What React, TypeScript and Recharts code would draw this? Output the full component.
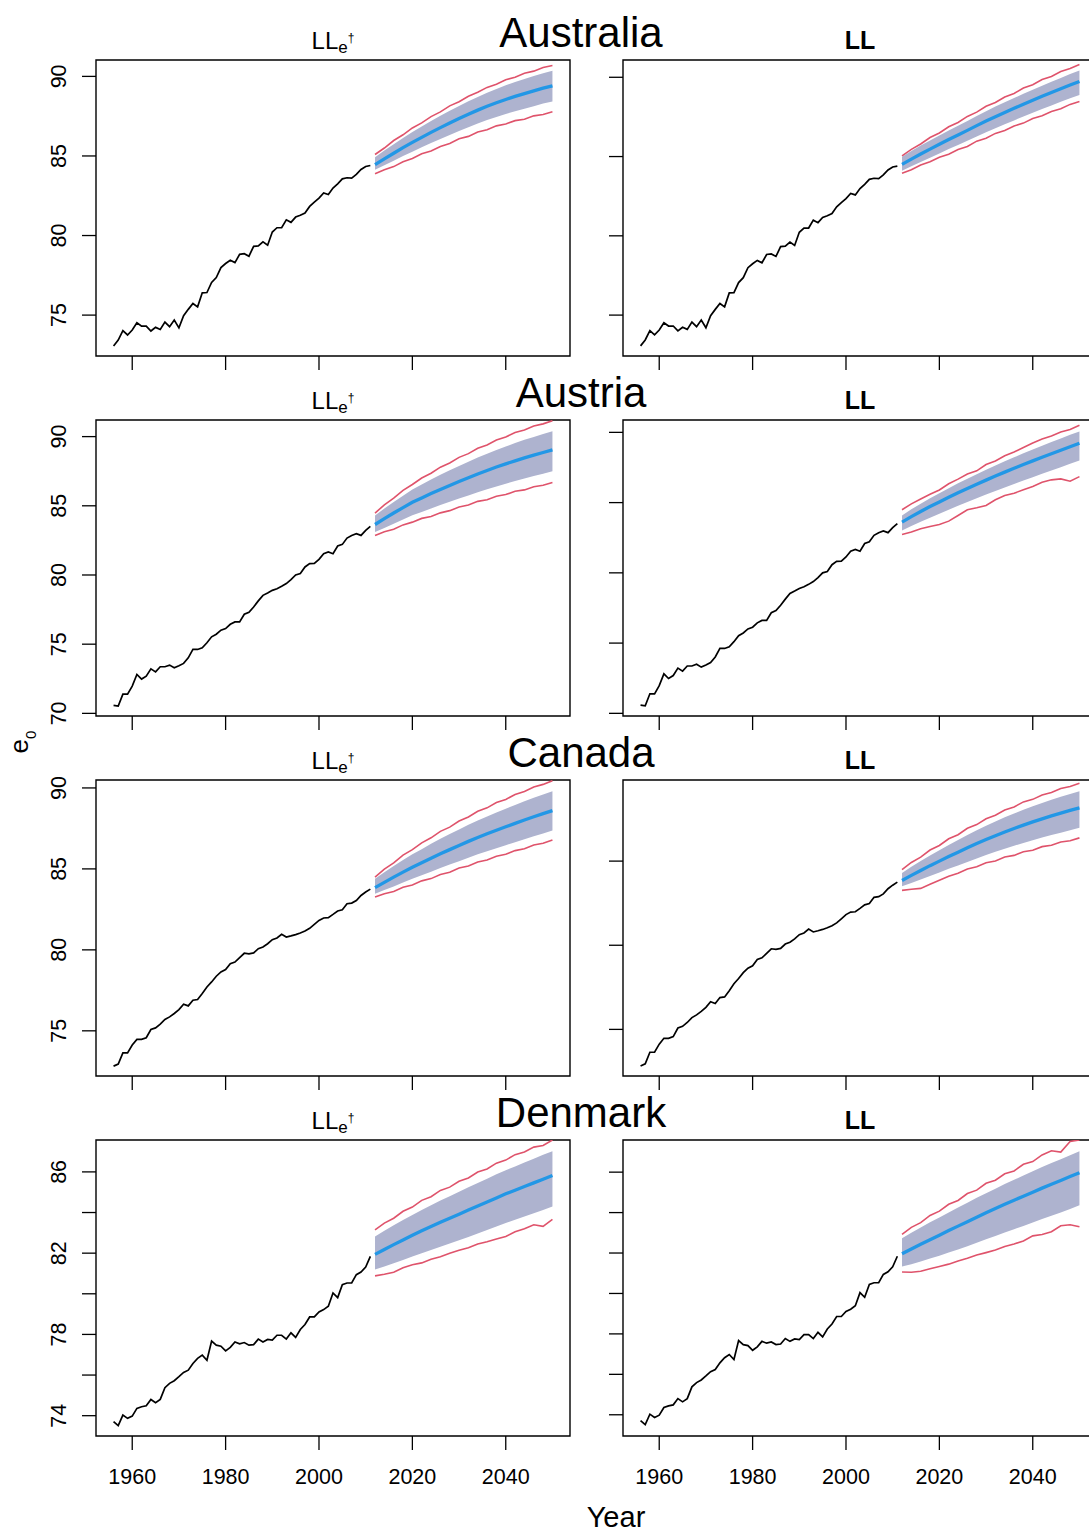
import React from "react";
import { ComposedChart, Line, Area, XAxis, YAxis, ReferenceArea } from "recharts";

const FONT = "'Liberation Sans', Arial, Helvetica, sans-serif";

const HIST_YEARS = [1956, 1957, 1958, 1959, 1960, 1961, 1962, 1963, 1964, 1965, 1966, 1967, 1968, 1969, 1970, 1971, 1972, 1973, 1974, 1975, 1976, 1977, 1978, 1979, 1980, 1981, 1982, 1983, 1984, 1985, 1986, 1987, 1988, 1989, 1990, 1991, 1992, 1993, 1994, 1995, 1996, 1997, 1998, 1999, 2000, 2001, 2002, 2003, 2004, 2005, 2006, 2007, 2008, 2009, 2010, 2011];
const FC_YEARS = [2012, 2014, 2016, 2018, 2020, 2022, 2024, 2026, 2028, 2030, 2032, 2034, 2036, 2038, 2040, 2042, 2044, 2046, 2048, 2050];

const X_DOMAIN: [number, number] = [1952.24, 2053.76];
const X_TICKS = [1960, 1980, 2000, 2020, 2040];

// Observed e0
const AUS_HIST = [73.06, 73.43, 74.02, 73.75, 74.06, 74.52, 74.31, 74.31, 74.0, 74.23, 74.1, 74.56, 74.27, 74.69, 74.2, 74.96, 75.36, 75.73, 75.52, 76.4, 76.42, 77.05, 77.36, 77.99, 78.24, 78.45, 78.3, 78.82, 78.86, 78.7, 79.32, 79.35, 79.6, 79.39, 80.22, 80.49, 80.49, 80.99, 80.83, 81.16, 81.27, 81.41, 81.83, 82.1, 82.35, 82.67, 82.58, 82.98, 83.25, 83.56, 83.63, 83.61, 83.84, 84.15, 84.34, 84.4];
const AUT_HIST = [70.58, 70.53, 71.39, 71.39, 71.97, 72.81, 72.48, 72.69, 73.22, 73.0, 73.37, 73.37, 73.49, 73.29, 73.44, 73.61, 74.01, 74.62, 74.62, 74.74, 75.1, 75.53, 75.72, 76.01, 76.13, 76.44, 76.61, 76.61, 77.16, 77.31, 77.69, 78.13, 78.53, 78.7, 78.89, 79.01, 79.18, 79.38, 79.66, 80.0, 80.1, 80.58, 80.82, 80.84, 81.13, 81.54, 81.66, 81.54, 82.09, 82.21, 82.67, 82.86, 82.98, 82.86, 83.22, 83.51];
const CAN_HIST = [72.82, 72.95, 73.64, 73.64, 74.12, 74.47, 74.47, 74.57, 75.08, 75.18, 75.41, 75.7, 75.86, 76.07, 76.31, 76.64, 76.54, 76.89, 76.93, 77.3, 77.71, 78.02, 78.37, 78.64, 78.78, 79.15, 79.25, 79.52, 79.79, 79.75, 79.81, 80.07, 80.18, 80.38, 80.63, 80.73, 80.96, 80.79, 80.86, 80.94, 81.04, 81.16, 81.33, 81.57, 81.82, 81.97, 81.99, 82.19, 82.4, 82.48, 82.85, 82.89, 83.05, 83.36, 83.57, 83.75];
const DEN_HIST = [73.71, 73.51, 74.03, 73.87, 73.98, 74.36, 74.44, 74.49, 74.8, 74.64, 74.8, 75.38, 75.59, 75.72, 75.92, 76.13, 76.24, 76.57, 76.82, 76.98, 76.73, 77.67, 77.47, 77.42, 77.19, 77.36, 77.63, 77.54, 77.6, 77.47, 77.5, 77.77, 77.63, 77.75, 77.72, 77.96, 77.96, 77.77, 78.08, 77.85, 78.24, 78.49, 78.86, 78.86, 79.11, 79.22, 79.39, 80.04, 79.81, 80.45, 80.53, 80.53, 80.94, 81.07, 81.32, 81.84];

// Australia LLe†
const AUS_LLE_MEAN = [84.46, 84.82, 85.17, 85.52, 85.85, 86.17, 86.48, 86.78, 87.07, 87.35, 87.62, 87.88, 88.12, 88.34, 88.55, 88.74, 88.92, 89.09, 89.26, 89.41];
const AUS_LLE_BLO = [84.13, 84.41, 84.70, 84.99, 85.27, 85.54, 85.81, 86.07, 86.32, 86.57, 86.81, 87.04, 87.26, 87.45, 87.64, 87.81, 87.97, 88.13, 88.29, 88.43];
const AUS_LLE_BHI = [84.92, 85.34, 85.74, 86.13, 86.50, 86.85, 87.19, 87.52, 87.84, 88.14, 88.44, 88.71, 88.97, 89.21, 89.44, 89.64, 89.84, 90.02, 90.20, 90.35];
const AUS_LLE_PLO = [83.88, 84.13, 84.33, 84.63, 84.84, 85.14, 85.31, 85.60, 85.79, 86.08, 86.23, 86.50, 86.65, 86.89, 87.01, 87.22, 87.31, 87.52, 87.61, 87.78];
const AUS_LLE_PHI = [85.09, 85.50, 85.97, 86.33, 86.76, 87.08, 87.47, 87.77, 88.15, 88.41, 88.75, 89.00, 89.31, 89.51, 89.79, 89.95, 90.20, 90.33, 90.56, 90.69];
// Australia LL
const AUS_LL_MEAN = [84.51, 84.84, 85.16, 85.47, 85.77, 86.07, 86.36, 86.65, 86.95, 87.24, 87.51, 87.78, 88.04, 88.30, 88.55, 88.80, 89.04, 89.28, 89.51, 89.73];
const AUS_LL_BLO = [84.11, 84.39, 84.66, 84.93, 85.20, 85.47, 85.73, 85.99, 86.27, 86.54, 86.78, 87.04, 87.28, 87.52, 87.76, 88.00, 88.22, 88.45, 88.67, 88.89];
const AUS_LL_BHI = [84.99, 85.35, 85.69, 86.02, 86.33, 86.65, 86.95, 87.25, 87.56, 87.86, 88.15, 88.42, 88.69, 88.96, 89.22, 89.47, 89.72, 89.96, 90.20, 90.42];
const AUS_LL_PLO = [83.94, 84.17, 84.47, 84.67, 84.96, 85.15, 85.45, 85.64, 85.97, 86.16, 86.46, 86.64, 86.93, 87.11, 87.40, 87.57, 87.84, 88.01, 88.29, 88.47];
const AUS_LL_PHI = [85.04, 85.45, 85.79, 86.20, 86.49, 86.88, 87.15, 87.53, 87.80, 88.17, 88.41, 88.76, 88.98, 89.32, 89.53, 89.86, 90.05, 90.36, 90.55, 90.80];
// Austria LLe†
const AUT_LLE_MEAN = [83.65, 84.07, 84.48, 84.87, 85.25, 85.57, 85.88, 86.18, 86.47, 86.75, 87.03, 87.30, 87.55, 87.80, 88.03, 88.25, 88.46, 88.66, 88.85, 89.04];
const AUT_LLE_BLO = [83.10, 83.40, 83.71, 84.01, 84.31, 84.56, 84.81, 85.05, 85.29, 85.52, 85.75, 85.98, 86.19, 86.40, 86.60, 86.79, 86.97, 87.15, 87.32, 87.50];
const AUT_LLE_BHI = [84.30, 84.80, 85.28, 85.73, 86.17, 86.54, 86.90, 87.24, 87.56, 87.88, 88.19, 88.49, 88.77, 89.04, 89.29, 89.53, 89.77, 89.98, 90.18, 90.38];
const AUT_LLE_PLO = [82.86, 83.12, 83.30, 83.62, 83.82, 84.09, 84.23, 84.49, 84.65, 84.91, 85.05, 85.32, 85.44, 85.69, 85.81, 86.05, 86.15, 86.38, 86.48, 86.68];
const AUT_LLE_PHI = [84.47, 85.07, 85.55, 86.12, 86.54, 87.01, 87.35, 87.79, 88.09, 88.50, 88.77, 89.16, 89.40, 89.76, 89.97, 90.29, 90.48, 90.76, 90.92, 91.15];
// Austria LL
const AUT_LL_MEAN = [83.61, 84.00, 84.37, 84.72, 85.05, 85.38, 85.70, 86.01, 86.31, 86.60, 86.89, 87.17, 87.44, 87.71, 87.97, 88.23, 88.48, 88.73, 88.98, 89.22];
const AUT_LL_BLO = [83.02, 83.33, 83.64, 83.93, 84.21, 84.50, 84.77, 85.04, 85.31, 85.57, 85.83, 86.08, 86.33, 86.57, 86.81, 87.05, 87.28, 87.52, 87.76, 87.99];
const AUT_LL_BHI = [84.08, 84.52, 84.92, 85.31, 85.67, 86.02, 86.37, 86.70, 87.02, 87.33, 87.64, 87.94, 88.22, 88.51, 88.78, 89.05, 89.31, 89.57, 89.83, 90.07];
const AUT_LL_PLO = [82.73, 82.90, 83.14, 83.30, 83.44, 83.68, 84.08, 84.49, 84.63, 84.79, 85.20, 85.50, 85.67, 85.91, 86.14, 86.45, 86.62, 86.69, 86.52, 86.85];
const AUT_LL_PHI = [84.49, 84.91, 85.26, 85.59, 85.90, 86.34, 86.67, 87.04, 87.26, 87.71, 87.96, 88.33, 88.60, 88.92, 89.24, 89.52, 89.74, 90.02, 90.21, 90.50];
// Canada LLe†
const CAN_LLE_MEAN = [83.84, 84.17, 84.49, 84.80, 85.10, 85.38, 85.66, 85.93, 86.19, 86.45, 86.70, 86.94, 87.17, 87.39, 87.60, 87.81, 88.02, 88.22, 88.41, 88.60];
const CAN_LLE_BLO = [83.46, 83.69, 83.92, 84.16, 84.39, 84.61, 84.83, 85.05, 85.27, 85.48, 85.69, 85.90, 86.09, 86.28, 86.46, 86.65, 86.83, 87.02, 87.19, 87.37];
const CAN_LLE_BHI = [84.39, 84.80, 85.18, 85.55, 85.90, 86.22, 86.55, 86.86, 87.15, 87.44, 87.72, 87.99, 88.24, 88.49, 88.72, 88.95, 89.18, 89.39, 89.59, 89.79];
const CAN_LLE_PLO = [83.26, 83.47, 83.61, 83.87, 84.01, 84.26, 84.40, 84.65, 84.79, 85.05, 85.18, 85.43, 85.55, 85.78, 85.90, 86.13, 86.24, 86.48, 86.58, 86.79];
const CAN_LLE_PHI = [84.49, 84.99, 85.37, 85.85, 86.19, 86.61, 86.92, 87.32, 87.58, 87.96, 88.21, 88.56, 88.77, 89.10, 89.29, 89.59, 89.78, 90.06, 90.22, 90.45];
// Canada LL
const CAN_LL_MEAN = [83.85, 84.15, 84.44, 84.73, 85.00, 85.27, 85.53, 85.79, 86.04, 86.28, 86.51, 86.73, 86.94, 87.14, 87.33, 87.51, 87.69, 87.85, 88.01, 88.16];
const CAN_LL_BLO = [83.50, 83.70, 83.91, 84.12, 84.33, 84.54, 84.74, 84.95, 85.16, 85.36, 85.55, 85.73, 85.91, 86.08, 86.24, 86.40, 86.55, 86.69, 86.84, 86.98];
const CAN_LL_BHI = [84.29, 84.66, 85.00, 85.34, 85.65, 85.96, 86.26, 86.55, 86.83, 87.10, 87.36, 87.60, 87.83, 88.05, 88.26, 88.46, 88.65, 88.82, 88.99, 89.15];
const CAN_LL_PLO = [83.26, 83.33, 83.38, 83.62, 83.86, 84.10, 84.28, 84.53, 84.66, 84.90, 85.01, 85.24, 85.34, 85.56, 85.65, 85.86, 85.94, 86.14, 86.21, 86.38];
const CAN_LL_PHI = [84.49, 84.92, 85.24, 85.66, 85.93, 86.33, 86.57, 86.95, 87.17, 87.52, 87.73, 88.04, 88.22, 88.52, 88.67, 88.93, 89.08, 89.32, 89.43, 89.62];
// Denmark LLe†
const DEN_LLE_MEAN = [81.94, 82.18, 82.42, 82.65, 82.88, 83.10, 83.31, 83.52, 83.72, 83.92, 84.12, 84.32, 84.52, 84.72, 84.92, 85.10, 85.28, 85.46, 85.64, 85.82];
const DEN_LLE_BLO = [81.19, 81.34, 81.50, 81.66, 81.83, 82.00, 82.15, 82.32, 82.48, 82.64, 82.80, 82.97, 83.14, 83.31, 83.48, 83.64, 83.80, 83.96, 84.13, 84.30];
const DEN_LLE_BHI = [82.82, 83.10, 83.37, 83.63, 83.88, 84.13, 84.36, 84.59, 84.80, 85.02, 85.24, 85.45, 85.66, 85.88, 86.08, 86.27, 86.46, 86.65, 86.84, 87.02];
const DEN_LLE_PLO = [80.88, 80.96, 81.06, 81.28, 81.43, 81.52, 81.70, 81.82, 82.00, 82.14, 82.27, 82.45, 82.56, 82.70, 82.82, 83.05, 83.20, 83.40, 83.32, 83.66];
const DEN_LLE_PHI = [83.15, 83.48, 83.72, 84.06, 84.27, 84.60, 84.78, 85.09, 85.25, 85.54, 85.70, 85.99, 86.14, 86.43, 86.58, 86.85, 86.98, 87.22, 87.30, 87.57];
// Denmark LL
const DEN_LL_MEAN = [81.96, 82.20, 82.43, 82.66, 82.88, 83.11, 83.33, 83.55, 83.77, 83.99, 84.20, 84.41, 84.61, 84.81, 85.01, 85.21, 85.40, 85.59, 85.78, 85.97];
const DEN_LL_BLO = [81.33, 81.45, 81.58, 81.73, 81.87, 82.03, 82.18, 82.34, 82.51, 82.68, 82.84, 83.02, 83.18, 83.34, 83.51, 83.68, 83.84, 84.01, 84.18, 84.36];
const DEN_LL_BHI = [82.73, 83.00, 83.26, 83.52, 83.76, 84.01, 84.25, 84.49, 84.73, 84.96, 85.18, 85.41, 85.62, 85.83, 86.04, 86.25, 86.45, 86.64, 86.84, 87.03];
const DEN_LL_PLO = [81.06, 81.05, 81.10, 81.22, 81.33, 81.45, 81.60, 81.74, 81.90, 82.02, 82.15, 82.32, 82.45, 82.60, 82.85, 82.92, 83.05, 83.35, 83.40, 83.30];
const DEN_LL_PHI = [82.92, 83.27, 83.50, 83.86, 84.07, 84.41, 84.60, 84.94, 85.11, 85.45, 85.60, 85.92, 86.06, 86.39, 86.52, 86.85, 87.06, 86.99, 87.52, 87.59];

const COUNTRIES = ["Australia", "Austria", "Canada", "Denmark"];

type Fc = { mean: number[]; blo: number[]; bhi: number[]; plo: number[]; phi: number[] };
type Panel = {
  row: number;
  col: number;
  hist: number[];
  fc: Fc;
  yDomain: [number, number];
  yTicks: number[];
  yLabels: number[];
};

const PANELS: Panel[] = [
  { row: 0, col: 0, hist: AUS_HIST, fc: { mean: AUS_LLE_MEAN, blo: AUS_LLE_BLO, bhi: AUS_LLE_BHI, plo: AUS_LLE_PLO, phi: AUS_LLE_PHI }, yDomain: [72.43, 91.03], yTicks: [75, 80, 85, 90], yLabels: [75, 80, 85, 90] },
  { row: 0, col: 1, hist: AUS_HIST, fc: { mean: AUS_LL_MEAN, blo: AUS_LL_BLO, bhi: AUS_LL_BHI, plo: AUS_LL_PLO, phi: AUS_LL_PHI }, yDomain: [72.42, 91.09], yTicks: [75, 80, 85, 90], yLabels: [] },
  { row: 1, col: 0, hist: AUT_HIST, fc: { mean: AUT_LLE_MEAN, blo: AUT_LLE_BLO, bhi: AUT_LLE_BHI, plo: AUT_LLE_PLO, phi: AUT_LLE_PHI }, yDomain: [69.81, 91.2], yTicks: [70, 75, 80, 85, 90], yLabels: [70, 75, 80, 85, 90] },
  { row: 1, col: 1, hist: AUT_HIST, fc: { mean: AUT_LL_MEAN, blo: AUT_LL_BLO, bhi: AUT_LL_BHI, plo: AUT_LL_PLO, phi: AUT_LL_PHI }, yDomain: [69.81, 90.88], yTicks: [70, 75, 80, 85, 90], yLabels: [] },
  { row: 2, col: 0, hist: CAN_HIST, fc: { mean: CAN_LLE_MEAN, blo: CAN_LLE_BLO, bhi: CAN_LLE_BHI, plo: CAN_LLE_PLO, phi: CAN_LLE_PHI }, yDomain: [72.21, 90.49], yTicks: [75, 80, 85, 90], yLabels: [75, 80, 85, 90] },
  { row: 2, col: 1, hist: CAN_HIST, fc: { mean: CAN_LL_MEAN, blo: CAN_LL_BLO, bhi: CAN_LL_BHI, plo: CAN_LL_PLO, phi: CAN_LL_PHI }, yDomain: [72.23, 89.82], yTicks: [75, 80, 85], yLabels: [] },
  { row: 3, col: 0, hist: DEN_HIST, fc: { mean: DEN_LLE_MEAN, blo: DEN_LLE_BLO, bhi: DEN_LLE_BHI, plo: DEN_LLE_PLO, phi: DEN_LLE_PHI }, yDomain: [73.0, 87.57], yTicks: [74, 76, 78, 80, 82, 84, 86], yLabels: [74, 78, 82, 86] },
  { row: 3, col: 1, hist: DEN_HIST, fc: { mean: DEN_LL_MEAN, blo: DEN_LL_BLO, bhi: DEN_LL_BHI, plo: DEN_LL_PLO, phi: DEN_LL_PHI }, yDomain: [72.95, 87.59], yTicks: [74, 76, 78, 80, 82, 84, 86], yLabels: [] },
];

const BOX_X = [96, 623];
const BOX_W = 474;
const BOX_H = 296;
const ROW_TOP = [60, 420, 780, 1140];
const YAXIS_W = 70;
const XAXIS_H = 60;
const M_TOP = 20;
const M_RIGHT = 4;
const TICK_FS = 21.5;

function buildRows(p: Panel) {
  const rows: any[] = [];
  HIST_YEARS.forEach((y, i) => rows.push({ year: y, hist: p.hist[i] }));
  FC_YEARS.forEach((y, i) =>
    rows.push({
      year: y,
      mean: p.fc.mean[i],
      band: [p.fc.blo[i], p.fc.bhi[i]],
      plo: p.fc.plo[i],
      phi: p.fc.phi[i],
    })
  );
  return rows;
}

function PanelChart({ p }: { p: Panel }) {
  const data = buildRows(p);
  const showX = p.row === 3;
  const left = BOX_X[p.col] - YAXIS_W;
  const top = ROW_TOP[p.row] - M_TOP;
  const xTick = (props: any) => {
    const { x, y, payload } = props;
    if (!showX) return <g />;
    return (
      <text x={x} y={y + 26} textAnchor="middle" fontSize={TICK_FS} fontFamily={FONT} fill="#000">
        {payload.value}
      </text>
    );
  };
  const yTick = (props: any) => {
    const { x, y, payload } = props;
    if (!p.yLabels.includes(payload.value)) return <g />;
    return (
      <text x={x} y={y} transform={`rotate(-90, ${x}, ${y})`} textAnchor="middle" fontSize={TICK_FS} fontFamily={FONT} fill="#000">
        {payload.value}
      </text>
    );
  };
  return (
    <div style={{ position: "absolute", left, top }}>
      <ComposedChart
        width={YAXIS_W + BOX_W + M_RIGHT}
        height={M_TOP + BOX_H + XAXIS_H}
        data={data}
        margin={{ top: M_TOP, right: M_RIGHT, bottom: 0, left: 0 }}
      >
        <XAxis
          dataKey="year"
          type="number"
          domain={X_DOMAIN}
          ticks={X_TICKS}
          interval={0}
          allowDataOverflow
          axisLine={false}
          tickLine={{ stroke: "#000", strokeWidth: 1.3 }}
          tickSize={14}
          tickMargin={8}
          height={XAXIS_H}
          tick={xTick}
        />
        <YAxis
          type="number"
          domain={p.yDomain}
          ticks={p.yTicks}
          interval={0}
          allowDataOverflow
          axisLine={false}
          tickLine={{ stroke: "#000", strokeWidth: 1.3 }}
          tickSize={14}
          tickMargin={16}
          width={YAXIS_W}
          tick={yTick}
        />
        <Area
          dataKey="band"
          type="linear"
          stroke="none"
          fill="#AEB3CF"
          fillOpacity={1}
          dot={false}
          activeDot={false}
          isAnimationActive={false}
        />
        <Line dataKey="plo" type="linear" stroke="#DF536B" strokeWidth={1.6} dot={false} activeDot={false} isAnimationActive={false} />
        <Line dataKey="phi" type="linear" stroke="#DF536B" strokeWidth={1.6} dot={false} activeDot={false} isAnimationActive={false} />
        <Line dataKey="hist" type="linear" stroke="#000" strokeWidth={1.7} dot={false} activeDot={false} isAnimationActive={false} />
        <Line dataKey="mean" type="linear" stroke="#2297E6" strokeWidth={3.3} dot={false} activeDot={false} isAnimationActive={false} />
        <ReferenceArea
          x1={X_DOMAIN[0]}
          x2={X_DOMAIN[1]}
          y1={p.yDomain[0]}
          y2={p.yDomain[1]}
          fill="none"
          fillOpacity={0}
          stroke="#000"
          strokeWidth={1.4}
          ifOverflow="visible"
        />
      </ComposedChart>
    </div>
  );
}

export default function App() {
  return (
    <div
      style={{
        position: "absolute",
        left: 0,
        top: 0,
        width: 1089,
        height: 1534,
        overflow: "hidden",
        background: "#fff",
        fontFamily: FONT,
      }}
    >
      {PANELS.map((p, i) => (
        <PanelChart key={i} p={p} />
      ))}
      <svg width={1089} height={1534} style={{ position: "absolute", left: 0, top: 0, pointerEvents: "none" }}>
        {COUNTRIES.map((c, r) => (
          <g key={c}>
            <text x={581} y={47 + 360 * r} textAnchor="middle" fontSize={42} fontFamily={FONT} fill="#000">
              {c}
            </text>
            <text x={333} y={48.5 + 360 * r} textAnchor="middle" fontSize={24} fontFamily={FONT} fill="#000">
              LL
              <tspan fontSize={17} dy={4.5}>e</tspan>
              <tspan fontSize={12} dy={-11}>†</tspan>
            </text>
            <text x={860} y={49 + 360 * r} textAnchor="middle" fontSize={25} fontWeight="bold" fontFamily={FONT} fill="#000">
              LL
            </text>
          </g>
        ))}
        <text x={28} y={742} transform="rotate(-90, 28, 742)" textAnchor="middle" fontSize={26} fontFamily={FONT} fill="#000">
          e<tspan fontSize={15} dy={8}>0</tspan>
        </text>
        <text x={616} y={1527} textAnchor="middle" fontSize={29} fontFamily={FONT} fill="#000">
          Year
        </text>
      </svg>
    </div>
  );
}
